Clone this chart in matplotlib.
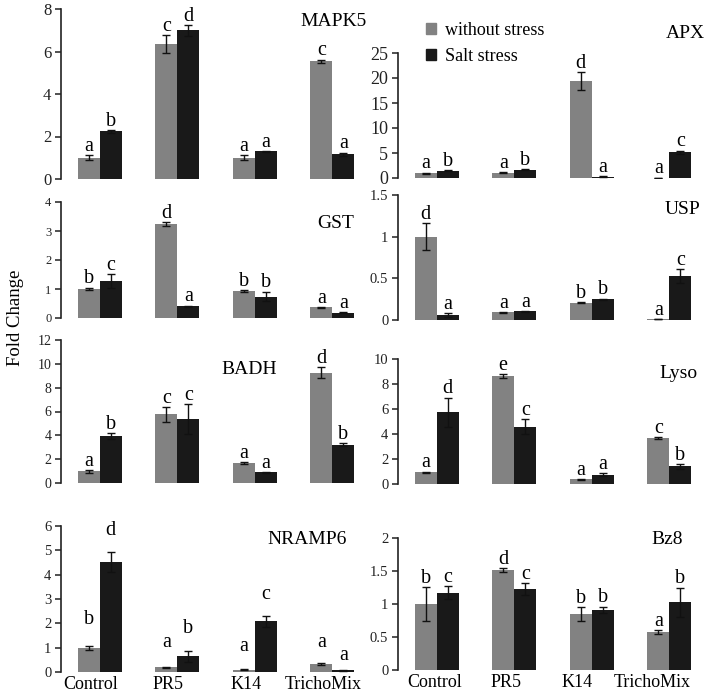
import numpy as np
import matplotlib
matplotlib.use("Agg")
import matplotlib.pyplot as plt
from matplotlib.patches import Patch

plt.rcParams.update({"font.family": "Liberation Serif", "font.size": 11})

W, H = 708, 696
GREY, BLACK = "#828282", "#191919"

groups = ["Control", "PR5", "K14", "TrichoMix"]

# per gene: without stress / salt stress means, errors, letters
mapk5_n, mapk5_ne = [1.0, 6.35, 1.0, 5.55], [0.12, 0.42, 0.12, 0.07]
mapk5_s, mapk5_se = [2.25, 7.0, 1.3, 1.17], [0.07, 0.25, 0.03, 0.07]
mapk5_ln, mapk5_ls = list("acac"), list("bdaa")

apx_n, apx_ne = [1.0, 1.1, 19.4, 0.05], [0.1, 0.1, 1.8, 0.02]
apx_s, apx_se = [1.5, 1.7, 0.3, 5.2], [0.1, 0.1, 0.05, 0.3]
apx_ln, apx_ls = list("aada"), list("bbac")

gst_n, gst_ne = [1.0, 3.25, 0.92, 0.37], [0.05, 0.07, 0.04, 0.02]
gst_s, gst_se = [1.27, 0.4, 0.74, 0.18], [0.25, 0.03, 0.17, 0.02]
gst_ln, gst_ls = list("bdba"), list("caba")

usp_n, usp_ne = [1.0, 0.095, 0.21, 0.01], [0.16, 0.005, 0.005, 0.003]
usp_s, usp_se = [0.06, 0.105, 0.25, 0.53], [0.02, 0.006, 0.006, 0.08]
usp_ln, usp_ls = list("daba"), list("aabc")

badh_n, badh_ne = [0.97, 5.75, 1.65, 9.25], [0.1, 0.65, 0.08, 0.45]
badh_s, badh_se = [3.94, 5.35, 0.9, 3.2], [0.22, 1.25, 0.05, 0.12]
badh_ln, badh_ls = list("acad"), list("bcab")

lyso_n, lyso_ne = [0.96, 8.62, 0.37, 3.67], [0.04, 0.15, 0.02, 0.1]
lyso_s, lyso_se = [5.74, 4.6, 0.74, 1.41], [1.17, 0.6, 0.12, 0.2]
lyso_ln, lyso_ls = list("aeac"), list("dcab")

nramp6_n, nramp6_ne = [1.0, 0.19, 0.1, 0.33], [0.08, 0.02, 0.02, 0.04]
nramp6_s, nramp6_se = [4.52, 0.65, 2.08, 0.07], [0.4, 0.22, 0.22, 0.02]
nramp6_ln, nramp6_ls = list("baaa"), list("dbca")
# letters in this panel sit at their own heights
nramp6_lyn, nramp6_lys = [1.97, 1.04, 0.86, 1.04], [5.64, 1.62, 3.0, 0.51]

bz8_n, bz8_ne = [1.0, 1.52, 0.85, 0.58], [0.26, 0.03, 0.1, 0.03]
bz8_s, bz8_se = [1.17, 1.23, 0.91, 1.03], [0.1, 0.09, 0.05, 0.22]
bz8_ln, bz8_ls = list("bdba"), list("ccbb")

# name, data, ylim, yticks, axes box px (x0, x1, ytop, ybottom), title px, tick size
panels = [
    ("MAPK5", (mapk5_n, mapk5_ne, mapk5_s, mapk5_se, mapk5_ln, mapk5_ls), 8, [0, 2, 4, 6, 8],
     (61, 371, 9, 179), (334, 21), 12),
    ("APX", (apx_n, apx_ne, apx_s, apx_se, apx_ln, apx_ls), 25, [0, 5, 10, 15, 20, 25],
     (398, 708, 53, 178), (685, 34), 13),
    ("GST", (gst_n, gst_ne, gst_s, gst_se, gst_ln, gst_ls), 4, [0, 1, 2, 3, 4],
     (61, 371, 202, 318), (336, 223), 9),
    ("USP", (usp_n, usp_ne, usp_s, usp_se, usp_ln, usp_ls), 1.5, [0, 0.5, 1, 1.5],
     (398, 708, 195, 320), (683, 209), 10.5),
    ("BADH", (badh_n, badh_ne, badh_s, badh_se, badh_ln, badh_ls), 12, [0, 2, 4, 6, 8, 10, 12],
     (61, 371, 340, 483), (249, 369), 10),
    ("Lyso", (lyso_n, lyso_ne, lyso_s, lyso_se, lyso_ln, lyso_ls), 10, [0, 2, 4, 6, 8, 10],
     (398, 708, 359, 484), (678, 373), 10.5),
    ("NRAMP6", (nramp6_n, nramp6_ne, nramp6_s, nramp6_se, nramp6_ln, nramp6_ls), 6, [0, 1, 2, 3, 4, 5, 6],
     (61, 371, 526, 672), (307, 539), 10.5),
    ("Bz8", (bz8_n, bz8_ne, bz8_s, bz8_se, bz8_ln, bz8_ls), 2, [0, 0.5, 1, 1.5, 2],
     (398, 708, 538, 670), (667, 540), 10.5),
]

# group labels sit a little left of the bar pairs in the original
label_shift = {"NRAMP6": [-0.12, -0.12, -0.11, -0.12],
               "Bz8": [-0.03, -0.1, -0.19, -0.22]}

fig = plt.figure(figsize=(W / 100, H / 100), dpi=100)
x = np.arange(len(groups))
bw = 0.285

for name, (vn, en, vs, es, ln, ls), ymax, yt, (x0, x1, yt0, yb0), (tx, ty), tsz in panels:
    ax = fig.add_axes([x0 / W, 1 - yb0 / H, (x1 - x0) / W, (yb0 - yt0) / H])
    ax.patch.set_alpha(0)
    ekw = dict(ecolor="#111111", elinewidth=1.0, capsize=3, capthick=1.0)
    ax.bar(x - bw / 2, vn, bw, yerr=en, color=GREY, error_kw=ekw)
    ax.bar(x + bw / 2, vs, bw, yerr=es, color=BLACK, error_kw=ekw)
    if name == "NRAMP6":
        for i in range(4):
            ax.text(x[i] - bw / 2, nramp6_lyn[i], ln[i], ha="center", va="baseline", fontsize=14.5)
            ax.text(x[i] + bw / 2, nramp6_lys[i], ls[i], ha="center", va="baseline", fontsize=14.5)
    else:
        for i in range(4):
            ax.annotate(ln[i], (x[i] - bw / 2, vn[i] + en[i]), xytext=(0, 3),
                        textcoords="offset points", ha="center", va="baseline", fontsize=14.5)
            ax.annotate(ls[i], (x[i] + bw / 2, vs[i] + es[i]), xytext=(0, 3),
                        textcoords="offset points", ha="center", va="baseline", fontsize=14.5)
    ax.set_xlim(-0.5, 3.5)
    ax.set_ylim(0, ymax)
    ax.set_yticks(yt)
    ax.set_yticklabels([f"{v:g}" for v in yt], fontsize=tsz, color="#222222")
    for s in ("top", "right", "bottom"):
        ax.spines[s].set_visible(False)
    ax.spines["left"].set_linewidth(1.2)
    ax.spines["left"].set_color("#222222")
    ax.tick_params(axis="y", length=4, width=1.1, color="#222222", pad=3)
    if name in label_shift:
        ax.set_xticks(x + np.array(label_shift[name]))
        ax.set_xticklabels(groups, fontsize=13)
        ax.tick_params(axis="x", length=0, pad=3)
    else:
        ax.set_xticks([])
    fig.text(tx / W, 1 - ty / H, name, ha="center", va="center", fontsize=14)

fig.text(16 / W, 1 - 318 / H, "Fold Change", rotation=90, ha="center", va="center", fontsize=13.5)

handles = [Patch(color=GREY, label="without stress"), Patch(color=BLACK, label="Salt stress")]
fig.legend(handles=handles, loc="upper left", bbox_to_anchor=(426 / W, 1 - 22 / H),
           frameon=False, fontsize=13, handlelength=0.55, handleheight=0.55,
           handletextpad=0.5, labelspacing=0.5, borderpad=0, borderaxespad=0)

fig.savefig("out.png", dpi=100)
